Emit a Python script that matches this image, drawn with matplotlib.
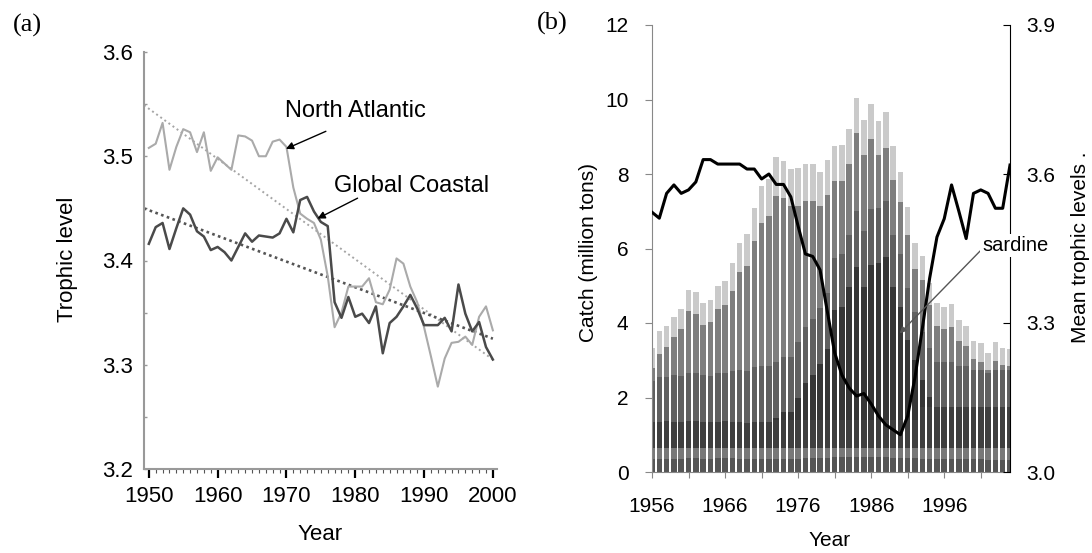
import numpy as np
import matplotlib.pyplot as plt
from matplotlib.ticker import MultipleLocator, FormatStrFormatter

plt.rcParams['font.family'] = ['Liberation Sans', 'DejaVu Sans']

# ---------------- panel (a): trophic level trends ----------------
years_a = np.arange(1950, 2001)
north_atlantic = [3.508, 3.512, 3.532, 3.487, 3.509, 3.526, 3.523, 3.504, 3.523, 3.486,
                  3.499, 3.493, 3.487, 3.520, 3.519, 3.515, 3.500, 3.500, 3.514, 3.516,
                  3.509, 3.470, 3.445, 3.440, 3.436, 3.420, 3.385, 3.336, 3.350, 3.375,
                  3.375, 3.375, 3.383, 3.360, 3.358, 3.372, 3.402, 3.397, 3.375, 3.360,
                  3.336, 3.308, 3.279, 3.306, 3.321, 3.322, 3.327, 3.319, 3.346, 3.356,
                  3.333]
global_coastal = [3.416, 3.432, 3.436, 3.411, 3.431, 3.450, 3.444, 3.428, 3.423, 3.410,
                  3.413, 3.408, 3.400, 3.413, 3.426, 3.418, 3.424, 3.423, 3.422, 3.426,
                  3.440, 3.427, 3.458, 3.461, 3.447, 3.437, 3.433, 3.360, 3.345, 3.365,
                  3.346, 3.349, 3.340, 3.356, 3.311, 3.340, 3.346, 3.356, 3.367, 3.354,
                  3.338, 3.338, 3.338, 3.345, 3.332, 3.377, 3.349, 3.332, 3.341, 3.317,
                  3.305]
trend_years = [1949.3, 2000.0]
trend_na = [3.549, 3.305]
trend_gc = [3.450, 3.325]

# ---------------- panel (b): catch composition and mean TL ----------------
years_b = np.arange(1956, 2006)
base_dark = [0.34, 0.35, 0.35, 0.36, 0.36, 0.37, 0.37, 0.36, 0.36, 0.37,
             0.37, 0.37, 0.36, 0.36, 0.35, 0.35, 0.34, 0.34, 0.35, 0.35,
             0.36, 0.37, 0.37, 0.38, 0.38, 0.39, 0.39, 0.39, 0.40, 0.40,
             0.40, 0.39, 0.39, 0.38, 0.38, 0.37, 0.37, 0.36, 0.36, 0.36,
             0.35, 0.35, 0.35, 0.34, 0.34, 0.34, 0.33, 0.33, 0.33, 0.33]
base_mid = [0.31, 0.30, 0.30, 0.29, 0.29, 0.28, 0.28, 0.29, 0.29, 0.28,
            0.28, 0.28, 0.29, 0.29, 0.30, 0.30, 0.31, 0.31, 0.30, 0.30,
            0.29, 0.28, 0.28, 0.27, 0.27, 0.26, 0.26, 0.26, 0.25, 0.25,
            0.25, 0.26, 0.26, 0.27, 0.27, 0.28, 0.28, 0.29, 0.29, 0.29,
            0.30, 0.30, 0.30, 0.31, 0.31, 0.31, 0.32, 0.32, 0.32, 0.32]
dark_band = [0.68, 0.70, 0.71, 0.70, 0.69, 0.71, 0.72, 0.70, 0.69, 0.70,
             0.71, 0.70, 0.68, 0.67, 0.68, 0.69, 0.70, 0.75, 0.75, 0.75,
             0.75, 0.75, 0.75, 0.75, 0.75, 0.75, 0.75, 0.75, 0.75, 0.75,
             0.75, 0.75, 0.75, 0.75, 0.75, 0.75, 0.75, 1.10, 1.10, 1.10,
             1.10, 1.10, 1.10, 1.10, 1.10, 1.10, 1.10, 1.10, 1.10, 1.10]
sardine = [0.00, 0.00, 0.00, 0.00, 0.00, 0.00, 0.00, 0.00, 0.00, 0.00,
           0.00, 0.00, 0.00, 0.00, 0.00, 0.00, 0.00, 0.05, 0.20, 0.20,
           0.60, 1.00, 1.20, 1.50, 1.90, 2.95, 3.04, 3.57, 4.11, 3.57,
           4.16, 4.20, 4.38, 3.57, 3.04, 2.14, 1.60, 0.72, 0.27, 0.00,
           0.00, 0.00, 0.00, 0.00, 0.00, 0.00, 0.00, 0.00, 0.00, 0.00]
mid_dark = [1.10, 1.20, 1.20, 1.25, 1.25, 1.30, 1.30, 1.25, 1.25, 1.30,
            1.30, 1.35, 1.40, 1.40, 1.50, 1.50, 1.50, 1.50, 1.50, 1.50,
            1.50, 1.50, 1.50, 1.50, 1.50, 1.40, 1.40, 1.40, 1.50, 1.50,
            1.50, 1.50, 1.50, 1.40, 1.40, 1.40, 1.30, 1.30, 1.30, 1.20,
            1.20, 1.20, 1.10, 1.10, 1.00, 1.00, 0.90, 1.00, 1.00, 1.00]
mid_gray = [0.36, 0.63, 0.80, 1.02, 1.24, 1.67, 1.56, 1.35, 1.44, 1.73,
            1.81, 2.17, 2.63, 2.81, 3.36, 3.85, 4.01, 4.46, 4.25, 4.03,
            3.65, 3.37, 3.17, 2.75, 2.63, 2.06, 1.98, 1.89, 2.09, 2.03,
            1.87, 1.42, 1.43, 1.48, 1.41, 1.42, 1.14, 1.39, 1.15, 0.98,
            0.89, 0.95, 0.68, 0.52, 0.28, 0.20, 0.09, 0.24, 0.12, 0.10]
light_top = [0.55, 0.60, 0.55, 0.55, 0.55, 0.55, 0.60, 0.60, 0.60, 0.60,
             0.65, 0.75, 0.80, 0.85, 0.90, 1.00, 1.00, 1.05, 1.00, 1.00,
             1.00, 1.00, 1.00, 0.90, 0.95, 0.95, 0.95, 0.95, 0.95, 0.95,
             0.95, 0.90, 0.95, 0.90, 0.80, 0.75, 0.70, 0.65, 0.60, 0.60,
             0.60, 0.60, 0.55, 0.55, 0.50, 0.50, 0.45, 0.50, 0.45, 0.45]
mean_tl = [3.523, 3.511, 3.561, 3.578, 3.561, 3.568, 3.584, 3.629, 3.629, 3.620,
           3.620, 3.620, 3.620, 3.610, 3.610, 3.590, 3.600, 3.579, 3.579, 3.554,
           3.495, 3.439, 3.434, 3.407, 3.323, 3.240, 3.195, 3.169, 3.153, 3.158,
           3.137, 3.113, 3.095, 3.085, 3.075, 3.113, 3.191, 3.289, 3.390, 3.473,
           3.510, 3.578, 3.525, 3.470, 3.561, 3.568, 3.561, 3.531, 3.531, 3.618]
x_ticks_b = [1956, 1961, 1966, 1971, 1976, 1981, 1986, 1991, 1996, 2001]
x_labels_b = ['1956', '', '1966', '', '1976', '', '1986', '', '1996', '']

W, H = 1092, 553
fig = plt.figure(figsize=(W / 100, H / 100), dpi=100)


def fx(px):
    return px / W


def fy(py):
    return 1 - py / H


# ---- panel (a)
axa = fig.add_axes([fx(144), fy(469), 353 / W, 417 / H])
axa.plot(trend_years, trend_na, color='#a5a5a5', lw=1.4, ls=(0, (1, 1.6)))
axa.plot(trend_years, trend_gc, color='#555555', lw=1.9, ls=(0, (1, 1.3)))
axa.plot(years_a, north_atlantic, color='#aaaaaa', lw=1.5)
axa.plot(years_a, global_coastal, color='#4a4a4a', lw=1.8)
axa.set_xlim(1949.3, 2000.6)
axa.set_ylim(3.2, 3.6)
axa.xaxis.set_major_locator(MultipleLocator(10))
axa.xaxis.set_minor_locator(MultipleLocator(1))
axa.yaxis.set_major_locator(MultipleLocator(0.1))
axa.yaxis.set_minor_locator(MultipleLocator(0.05))
axa.yaxis.set_major_formatter(FormatStrFormatter('%.1f'))
for s in ['top', 'right']:
    axa.spines[s].set_visible(False)
for s in ['left', 'bottom']:
    axa.spines[s].set_color('#999999')
    axa.spines[s].set_linewidth(1.5)
axa.tick_params(axis='x', which='major', direction='out', length=6.5, width=1.6,
                color='black', labelsize=16, pad=6)
axa.tick_params(axis='x', which='minor', direction='out', length=3, width=0.8, color='#555555')
axa.tick_params(axis='y', which='both', direction='in', length=2, width=1, color='#999999',
                labelsize=16, pad=8)

axa.annotate('', xy=(1969.55, 3.506), xytext=(1976.1, 3.525),
             arrowprops=dict(arrowstyle='-|>', color='black', lw=1, mutation_scale=11))
axa.annotate('', xy=(1974.15, 3.439), xytext=(1980.7, 3.461),
             arrowprops=dict(arrowstyle='-|>', color='black', lw=1, mutation_scale=11))
axa.text(1969.8, 3.543, 'North Atlantic', fontsize=17, va='center', ha='left')
axa.text(1976.9, 3.471, 'Global Coastal', fontsize=17, va='center', ha='left')

fig.text(fx(68), fy(259), 'Trophic level', rotation=90, fontsize=16, ha='center', va='center')
fig.text(fx(320), fy(540), 'Year', fontsize=16, ha='center', va='baseline')
fig.text(fx(27), fy(25), '(a)', family='Liberation Serif', fontsize=19, ha='center', va='center')

# ---- panel (b)
axb = fig.add_axes([fx(652), fy(472), 358 / W, 447 / H])
layers = [base_dark, base_mid, dark_band, sardine, mid_dark, mid_gray, light_top]
colors = ['#555555', '#787878', '#3f3f3f', '#363636', '#606060', '#7e7e7e', '#cacaca']
bottom = np.zeros(len(years_b))
for vals, col in zip(layers, colors):
    axb.bar(years_b, vals, width=0.76, bottom=bottom, color=col, linewidth=0)
    bottom = bottom + np.array(vals)
axb.set_xlim(1956, 2005)
axb.set_ylim(0, 12)
axb.set_yticks(range(0, 13, 2))
axb.set_xticks(x_ticks_b)
axb.set_xticklabels(x_labels_b)
for s in ['top', 'right']:
    axb.spines[s].set_visible(False)
for s in ['left', 'bottom']:
    axb.spines[s].set_color('#888888')
axb.tick_params(axis='y', direction='out', length=5, color='#888888', labelsize=15, pad=12)
axb.tick_params(axis='x', direction='out', length=4, color='#888888', labelsize=15, pad=14)

ax2 = axb.twinx()
ax2.plot(years_b, mean_tl, color='black', lw=2.2)
ax2.set_ylim(3.0, 3.9)
ax2.set_yticks([3.0, 3.3, 3.6, 3.9])
ax2.yaxis.set_major_formatter(FormatStrFormatter('%.1f'))
for s in ['top', 'left', 'bottom']:
    ax2.spines[s].set_visible(False)
ax2.spines['right'].set_color('black')
ax2.tick_params(axis='y', direction='in', length=5, color='black', labelsize=15, pad=12)

ax2.annotate('sardine', xy=(1989.9, 3.279), xytext=(2001.2, 3.457), fontsize=14.5,
             va='center', ha='left', zorder=5,
             bbox=dict(boxstyle='square,pad=0.1', fc='white', ec='none'),
             arrowprops=dict(arrowstyle='-|>', color='#555555', lw=1, mutation_scale=9,
                             shrinkA=0, shrinkB=0, relpos=(0.0, 0.3)))

fig.text(fx(589), fy(253), 'Catch (million tons)', rotation=90, fontsize=15, ha='center', va='center')
fig.text(fx(1080), fy(247), 'Mean trophic levels .', rotation=90, fontsize=15, ha='center', va='center')
fig.text(fx(830), fy(546), 'Year', fontsize=15, ha='center', va='baseline')
fig.text(fx(552), fy(23), '(b)', family='Liberation Serif', fontsize=19, ha='center', va='center')

fig.savefig('out.png', dpi=100)
